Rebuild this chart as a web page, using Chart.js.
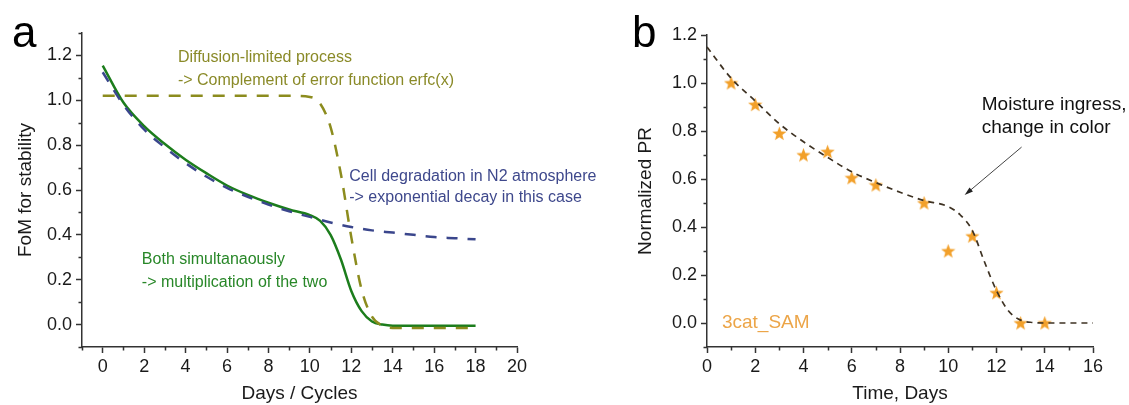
<!DOCTYPE html>
<html>
<head>
<meta charset="utf-8">
<script src="https://cdn.jsdelivr.net/npm/chart.js@4.4.1/dist/chart.umd.min.js"></script>
<style>
  html, body { margin: 0; padding: 0; background: #fff; }
  #wrap { position: relative; width: 1129px; height: 405px; }
  #chartA { position: absolute; left: 0; top: 0; }
  #chartB { position: absolute; left: 620px; top: 0; }
</style>
</head>
<body>
<div id="wrap">
  <canvas id="chartA" width="600" height="405"></canvas>
  <canvas id="chartB" width="509" height="405"></canvas>
</div>
<script>
// --- panel a: model curves ---
const erfcDays = [0, 9, 10, 10.5, 11, 11.5, 12, 12.5, 13, 13.5, 14, 18];
const erfcFoM = [1.02, 1.02, 1.015, 0.985, 0.88, 0.67, 0.39, 0.155, 0.035, -0.005, -0.015, -0.015];

const expDays = [0, 1, 2, 3, 4, 5, 6, 7, 8, 9, 10, 11, 12, 13, 14, 15, 16, 17, 18];
const expFoM = [1.125, 0.98, 0.87, 0.79, 0.72, 0.66, 0.61, 0.57, 0.535, 0.505, 0.48, 0.455, 0.435, 0.42, 0.41, 0.40, 0.39, 0.385, 0.38];

const bothDays = [0, 1, 2, 3, 4, 5, 6, 7, 8, 9, 10, 10.5, 11, 11.5, 12, 12.5, 13, 13.5, 14, 18];
const bothFoM = [1.155, 0.99, 0.885, 0.805, 0.735, 0.675, 0.62, 0.578, 0.543, 0.513, 0.488, 0.462, 0.40, 0.29, 0.15, 0.06, 0.014, 0.0, -0.005, -0.005];

// --- panel b: measured PR and fit ---
const timeDays = [1, 2, 3, 4, 5, 6, 7, 9, 10, 11, 12, 13, 14];
const normPR = [1.0, 0.91, 0.79, 0.70, 0.714, 0.605, 0.575, 0.50, 0.30, 0.362, 0.126, 0.0, 0.0];

const fitDays = [0, 1, 2, 3, 4, 5, 6, 7, 8, 9, 10, 10.5, 11, 11.5, 12, 12.5, 13, 13.5, 14, 15, 16];
const fitPR = [1.15, 1.02, 0.925, 0.83, 0.755, 0.69, 0.63, 0.585, 0.545, 0.51, 0.485, 0.45, 0.385, 0.255, 0.135, 0.05, 0.012, 0.002, 0, 0, 0];

// --- ticks ---
const xTicksA = [0, 2, 4, 6, 8, 10, 12, 14, 16, 18, 20];
const xMinorA = [-1, 1, 3, 5, 7, 9, 11, 13, 15, 17, 19];
const xTicksB = [0, 2, 4, 6, 8, 10, 12, 14, 16];
const xMinorB = [1, 3, 5, 7, 9, 11, 13, 15];
const yTicks = [0, 0.2, 0.4, 0.6, 0.8, 1.0, 1.2];
const yMinorA = [-0.1, 0.1, 0.3, 0.5, 0.7, 0.9, 1.1, 1.3];
const yMinorB = [-0.1, 0.1, 0.3, 0.5, 0.7, 0.9, 1.1];

const FONT = 'Liberation Sans, Arial, Helvetica, sans-serif';
Chart.defaults.font.family = FONT;
Chart.defaults.color = '#1a1a1a';

const AXIS = '#333';
const toXY = (xs, ys) => xs.map((x, i) => ({ x: x, y: ys[i] }));

// filled five-point star used as point marker
function starImage(size, color) {
  const c = document.createElement('canvas');
  c.width = size; c.height = size;
  const g = c.getContext('2d');
  const r = size / 2, ri = r * 0.42;
  g.beginPath();
  for (let i = 0; i < 10; i++) {
    const a = -Math.PI / 2 + i * Math.PI / 5;
    const rr = i % 2 ? ri : r;
    g.lineTo(r + rr * Math.cos(a), r + 0.6 + rr * Math.sin(a));
  }
  g.closePath();
  g.fillStyle = color;
  g.fill();
  return c;
}

// minor ticks, panel letter, text notes and arrow
const extras = {
  id: 'extras',
  afterDraw(chart, args, o) {
    const { ctx, scales: { x, y } } = chart;
    ctx.save();
    ctx.strokeStyle = AXIS;
    ctx.lineWidth = 1.5;
    ctx.beginPath();
    (o.minorX || []).forEach(v => {
      const px = Math.round(x.getPixelForValue(v)) + 0.5;
      ctx.moveTo(px, x.top); ctx.lineTo(px, x.top + 3.5);
    });
    (o.minorY || []).forEach(v => {
      const py = Math.round(y.getPixelForValue(v)) + 0.5;
      ctx.moveTo(y.right, py); ctx.lineTo(y.right - 3.5, py);
    });
    ctx.stroke();

    if (o.letter) {
      ctx.font = '44px ' + FONT;
      ctx.fillStyle = '#000';
      ctx.textBaseline = 'alphabetic';
      ctx.fillText(o.letter, 12, 47);
    }

    ctx.textBaseline = 'middle';
    ctx.textAlign = 'left';
    (o.notes || []).forEach(n => {
      ctx.font = n.size + 'px ' + FONT;
      ctx.fillStyle = n.color;
      n.lines.forEach((line, i) => {
        ctx.fillText(line, x.getPixelForValue(n.x), y.getPixelForValue(n.y[i]));
      });
    });

    if (o.arrow) {
      const a = o.arrow;
      const x0 = x.getPixelForValue(a.from[0]), y0 = y.getPixelForValue(a.from[1]);
      const x1 = x.getPixelForValue(a.to[0]), y1 = y.getPixelForValue(a.to[1]);
      const ang = Math.atan2(y1 - y0, x1 - x0);
      ctx.strokeStyle = '#444';
      ctx.lineWidth = 1;
      ctx.beginPath();
      ctx.moveTo(x0, y0); ctx.lineTo(x1 - 6 * Math.cos(ang), y1 - 6 * Math.sin(ang));
      ctx.stroke();
      ctx.fillStyle = '#222';
      ctx.beginPath();
      ctx.moveTo(x1, y1);
      ctx.lineTo(x1 - 9 * Math.cos(ang - 0.3), y1 - 9 * Math.sin(ang - 0.3));
      ctx.lineTo(x1 - 9 * Math.cos(ang + 0.3), y1 - 9 * Math.sin(ang + 0.3));
      ctx.closePath();
      ctx.fill();
    }
    ctx.restore();
  }
};

function xAxis(min, max, ticks, title) {
  return {
    type: 'linear', min: min, max: max,
    afterBuildTicks: s => { s.ticks = ticks.map(v => ({ value: v })); },
    afterFit: s => { s.height = 58; },
    grid: { drawOnChartArea: false, tickLength: 6, tickColor: AXIS, tickWidth: 1.5 },
    border: { color: AXIS, width: 1.5 },
    ticks: { font: { size: 18 }, padding: 3, maxRotation: 0, autoSkip: false },
    title: { display: true, text: title, font: { size: 19 }, color: '#1a1a1a', padding: { top: 0, bottom: 0 } }
  };
}

function yAxis(min, max, width, title) {
  return {
    type: 'linear', min: min, max: max,
    afterBuildTicks: s => { s.ticks = yTicks.map(v => ({ value: v })); },
    afterFit: s => { s.width = width; },
    grid: { drawOnChartArea: false, tickLength: 6, tickColor: AXIS, tickWidth: 1.5 },
    border: { color: AXIS, width: 1.5 },
    ticks: { font: { size: 18 }, padding: 4, autoSkip: false, callback: v => Number(v).toFixed(1) },
    title: { display: true, text: title, font: { size: 19 }, color: '#1a1a1a', padding: { top: 14, bottom: 0 } }
  };
}

const OLIVE = 'rgb(140,140,30)';
const NAVY = 'rgb(58,70,140)';
const GREEN = 'rgb(28,125,28)';

new Chart(document.getElementById('chartA'), {
  type: 'line',
  data: {
    datasets: [
      {
        label: 'erfc',
        data: toXY(erfcDays, erfcFoM),
        borderColor: OLIVE, borderWidth: 2.5, borderDash: [12, 10],
        pointRadius: 0, cubicInterpolationMode: 'monotone'
      },
      {
        label: 'exp',
        data: toXY(expDays, expFoM),
        borderColor: NAVY, borderWidth: 2.5, borderDash: [11, 10],
        pointRadius: 0, cubicInterpolationMode: 'monotone'
      },
      {
        label: 'both',
        data: toXY(bothDays, bothFoM),
        borderColor: GREEN, borderWidth: 2.5,
        pointRadius: 0, cubicInterpolationMode: 'monotone'
      }
    ]
  },
  options: {
    responsive: false,
    devicePixelRatio: 1,
    animation: false,
    layout: { padding: { top: 33, right: 83, left: 0, bottom: 0 } },
    plugins: {
      legend: { display: false },
      tooltip: { enabled: false },
      extras: {
        letter: 'a',
        minorX: xMinorA,
        minorY: yMinorA,
        notes: [
          { x: 3.63, y: [1.19, 1.087], size: 16, color: 'rgb(138,138,40)',
            lines: ['Diffusion-limited process', '-> Complement of error function erfc(x)'] },
          { x: 11.9, y: [0.658, 0.568], size: 16, color: 'rgb(62,72,140)',
            lines: ['Cell degradation in N2 atmosphere', '-> exponential decay in this case'] },
          { x: 1.89, y: [0.291, 0.189], size: 16, color: 'rgb(40,135,40)',
            lines: ['Both simultanaously', '-> multiplication of the two'] }
        ]
      }
    },
    scales: {
      x: xAxis(-1, 20, xTicksA, 'Days / Cycles'),
      y: yAxis(-0.1, 1.3, 82, 'FoM for stability')
    }
  },
  plugins: [extras]
});

new Chart(document.getElementById('chartB'), {
  type: 'line',
  data: {
    datasets: [
      {
        label: 'fit',
        data: toXY(fitDays, fitPR),
        borderColor: 'rgb(62,50,35)', borderWidth: 1.7, borderDash: [6, 5],
        pointRadius: 0, cubicInterpolationMode: 'monotone'
      },
      {
        label: '3cat_SAM',
        data: toXY(timeDays, normPR),
        showLine: false,
        pointStyle: starImage(15, 'rgb(242,160,42)'),
        pointRadius: 7
      }
    ]
  },
  options: {
    responsive: false,
    devicePixelRatio: 1,
    animation: false,
    layout: { padding: { top: 35, right: 36, left: 0, bottom: 0 } },
    plugins: {
      legend: { display: false },
      tooltip: { enabled: false },
      extras: {
        letter: 'b',
        minorX: xMinorB,
        minorY: yMinorB,
        notes: [
          { x: 0.62, y: [0.0], size: 19, color: 'rgb(236,165,72)', lines: ['3cat_SAM'] },
          { x: 11.39, y: [0.908, 0.8125], size: 19, color: '#111',
            lines: ['Moisture ingress,', 'change in color'] }
        ],
        arrow: { from: [13.04, 0.733], to: [10.68, 0.533] }
      }
    },
    scales: {
      x: xAxis(0, 16, xTicksB, 'Time, Days'),
      y: yAxis(-0.1, 1.2, 87, 'Normalized PR')
    }
  },
  plugins: [extras]
});
</script>
</body>
</html>
